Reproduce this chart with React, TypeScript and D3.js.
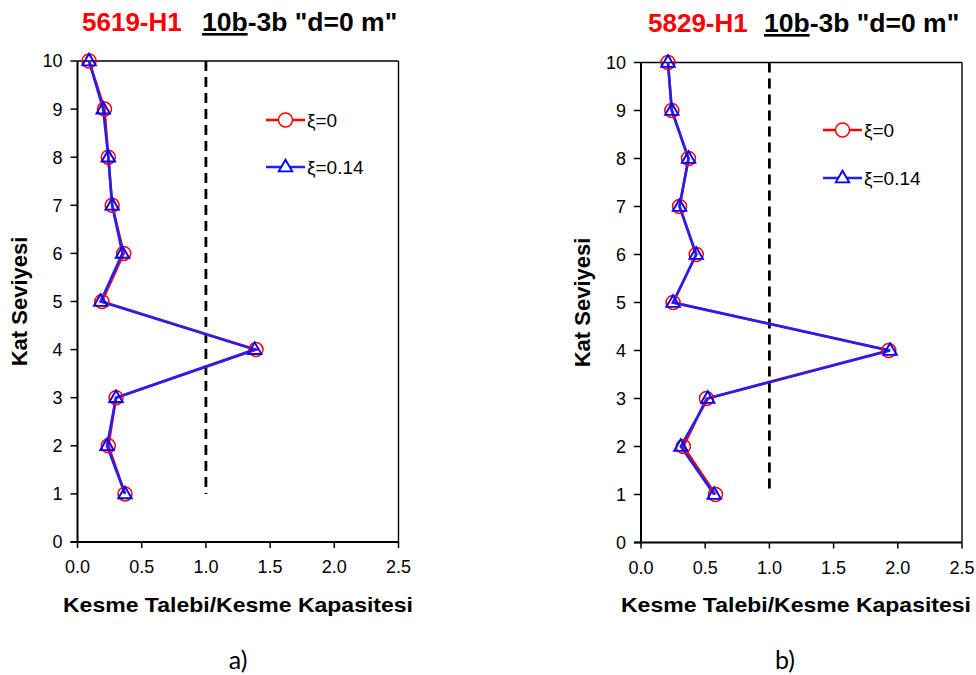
import React from 'react';
import * as d3 from 'd3';

// ---- data ----
const floors = [1, 2, 3, 4, 5, 6, 7, 8, 9, 10];
const panelA_xi0 = [0.37, 0.24, 0.30, 1.39, 0.19, 0.36, 0.27, 0.24, 0.21, 0.09];
const panelA_xi014 = [0.37, 0.23, 0.30, 1.38, 0.18, 0.35, 0.27, 0.24, 0.20, 0.09];
const panelB_xi0 = [0.58, 0.33, 0.51, 1.93, 0.25, 0.43, 0.30, 0.37, 0.24, 0.21];
const panelB_xi014 = [0.57, 0.31, 0.52, 1.94, 0.25, 0.43, 0.30, 0.37, 0.24, 0.21];
const xTicks = [0, 0.5, 1.0, 1.5, 2.0, 2.5];
const yTicks = [0, 1, 2, 3, 4, 5, 6, 7, 8, 9, 10];
const limitValue = 1.0;
const limitFloors = [1, 10];
const recordNames = ['5619-H1', '5829-H1'];
const titleUnderlined = '10b';
const titleRest = '-3b "d=0 m"';
const seriesNames = ['ξ=0', 'ξ=0.14'];
const panelLetters = ['a)', 'b)'];
const xTitle = 'Kesme Talebi/Kesme Kapasitesi';
const yTitle = 'Kat Seviyesi';

const FONT = '"Liberation Sans", Arial, sans-serif';

interface PanelProps {
  left: number; right: number; top: number; bottom: number;
  s0: number[]; s1: number[];
  name: string; letter: string;
  titleX: number; titleRestX: number; titleY: number;
  legendX: number; legendY0: number; legendY1: number;
  yTitleX: number; xTitleX: number; letterX: number;
}

function Panel(p: PanelProps) {
  const x = d3.scaleLinear().domain([0, 2.5]).range([p.left, p.right]);
  const y = d3.scaleLinear().domain([0, 10]).range([p.bottom, p.top]);
  const line = d3.line<number>().x((v) => x(v)).y((_, i) => y(floors[i]));
  const tri = d3.symbol().type(d3.symbolTriangle).size(78)();
  const legendLen = 39;
  return (
    <g>
      {/* frame */}
      <line x1={p.left} x2={p.right} y1={p.top} y2={p.top} stroke="#000" strokeWidth={1.4} />
      <line x1={p.right} x2={p.right} y1={p.top} y2={p.bottom} stroke="#000" strokeWidth={1.4} />
      {/* limit line */}
      <line x1={x(limitValue)} x2={x(limitValue)} y1={y(limitFloors[1])} y2={y(limitFloors[0])}
        stroke="#000" strokeWidth={2.8} strokeDasharray="10,6" />
      {/* series lines */}
      <path d={line(p.s0) || ''} fill="none" stroke="#ff0000" strokeWidth={2.6} />
      <path d={line(p.s1) || ''} fill="none" stroke="#2020ff" strokeWidth={2.6} />
      {p.s0.map((v, i) => (
        <circle key={'c' + i} cx={x(v)} cy={y(floors[i])} r={7} fill="none" stroke="#ff0000" strokeWidth={1.5} />
      ))}
      {p.s1.map((v, i) => (
        <path key={'t' + i} d={tri || ''} transform={`translate(${x(v)},${y(floors[i]) + 0.5})`}
          fill="none" stroke="#0000ff" strokeWidth={1.9} />
      ))}
      {/* axes */}
      <line x1={p.left} x2={p.left} y1={p.top} y2={p.bottom} stroke="#000" strokeWidth={2} />
      <line x1={p.left - 7} x2={p.right} y1={p.bottom} y2={p.bottom} stroke="#000" strokeWidth={2} />
      {yTicks.map((t) => (
        <g key={'y' + t}>
          <line x1={p.left - 7} x2={p.left} y1={y(t)} y2={y(t)} stroke="#000" strokeWidth={1.5} />
          <text x={p.left - 15} y={y(t)} dy="0.36em" textAnchor="end" fontFamily={FONT} fontSize={18}>{t}</text>
        </g>
      ))}
      {xTicks.map((t) => (
        <g key={'x' + t}>
          <line x1={x(t)} x2={x(t)} y1={p.bottom} y2={p.bottom + 6} stroke="#000" strokeWidth={1.5} />
          <text x={x(t)} y={p.bottom + 31} textAnchor="middle" fontFamily={FONT} fontSize={18}>{t.toFixed(1)}</text>
        </g>
      ))}
      {/* axis titles */}
      <text x={p.xTitleX} y={612} textAnchor="middle" fontFamily={FONT} fontSize={21} fontWeight="bold"
        textLength={350} lengthAdjust="spacingAndGlyphs">{xTitle}</text>
      <text transform={`translate(${p.yTitleX},${(p.top + p.bottom) / 2}) rotate(-90)`} textAnchor="middle"
        fontFamily={FONT} fontSize={22} fontWeight="bold">{yTitle}</text>
      {/* title */}
      <text x={p.titleX} y={p.titleY} fontFamily={FONT} fontSize={26} fontWeight="bold" fill="#ff0000">{p.name}</text>
      <text x={p.titleRestX} y={p.titleY} fontFamily={FONT} fontSize={26.5} fontWeight="bold" fill="#000">
        <tspan style={{ textDecoration: 'underline' }}>{titleUnderlined}</tspan>
        <tspan>{titleRest}</tspan>
      </text>
      {/* legend */}
      <line x1={p.legendX} x2={p.legendX + legendLen} y1={p.legendY0} y2={p.legendY0} stroke="#ff0000" strokeWidth={2.6} />
      <circle cx={p.legendX + legendLen / 2} cy={p.legendY0} r={7} fill="#fff" stroke="#ff0000" strokeWidth={1.5} />
      <text x={p.legendX + legendLen + 2} y={p.legendY0} dy="0.36em" fontFamily={FONT} fontSize={19}>{seriesNames[0]}</text>
      <line x1={p.legendX} x2={p.legendX + legendLen} y1={p.legendY1} y2={p.legendY1} stroke="#2020ff" strokeWidth={2.6} />
      <path d={tri || ''} transform={`translate(${p.legendX + legendLen / 2},${p.legendY1 + 0.5})`} fill="#fff" stroke="#0000ff" strokeWidth={1.9} />
      <text x={p.legendX + legendLen + 2} y={p.legendY1} dy="0.36em" fontFamily={FONT} fontSize={19}>{seriesNames[1]}</text>
      {/* panel letter */}
      <text x={p.letterX} y={669} textAnchor="middle" fontFamily='Lato, "Open Sans", sans-serif' fontSize={25}>{p.letter}</text>
    </g>
  );
}

export default function App() {
  return (
    <svg width={976} height={675} style={{ position: 'absolute', left: 0, top: 0, background: '#fff' }}>
      <rect width={976} height={675} fill="#fff" />
      <Panel left={77.5} right={398.5} top={61} bottom={542} s0={panelA_xi0} s1={panelA_xi014}
        name={recordNames[0]} letter={panelLetters[0]} titleX={82} titleRestX={202} titleY={31}
        legendX={266} legendY0={120} legendY1={167} yTitleX={27} xTitleX={238} letterX={238} />
      <Panel left={641} right={962} top={62.5} bottom={542.5} s0={panelB_xi0} s1={panelB_xi014}
        name={recordNames[1]} letter={panelLetters[1]} titleX={648} titleRestX={764} titleY={32}
        legendX={823} legendY0={130} legendY1={178} yTitleX={590} xTitleX={796} letterX={785} />
    </svg>
  );
}
